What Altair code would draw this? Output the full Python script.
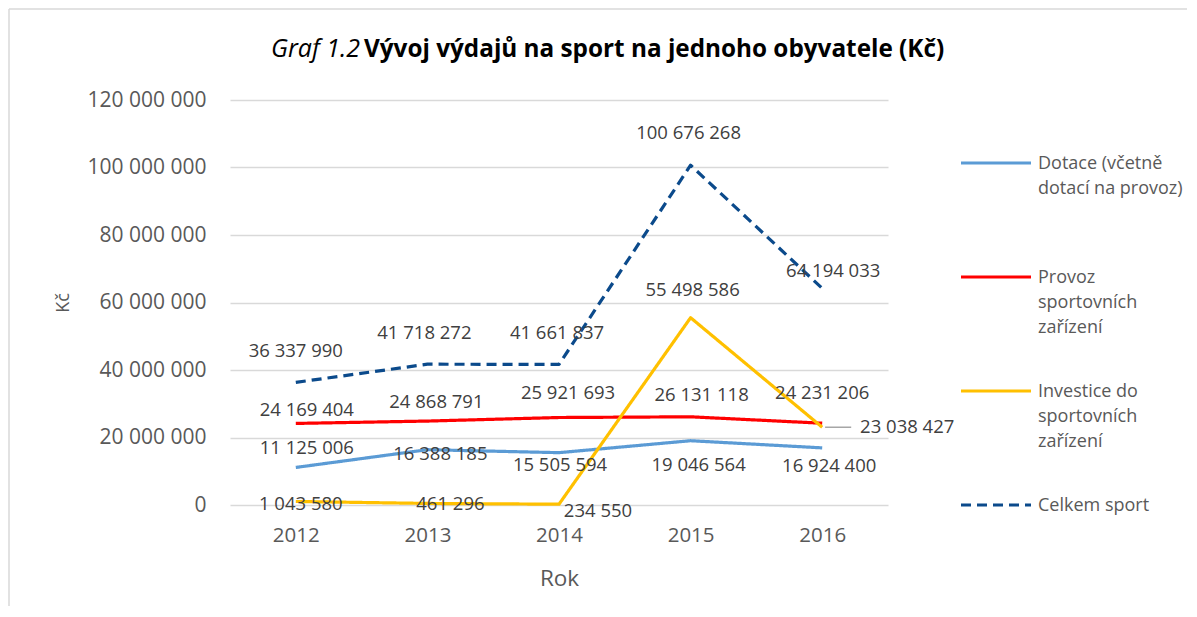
import altair as alt
import pandas as pd

# ---- data ----
years = ["2012", "2013", "2014", "2015", "2016"]
series_names = [
    "Dotace (včetně dotací na provoz)",
    "Provoz sportovních zařízení",
    "Investice do sportovních zařízení",
    "Celkem sport",
]
legend_texts = [
    "Dotace (včetně\ndotací na provoz)",
    "Provoz\nsportovních\nzařízení",
    "Investice do\nsportovních\nzařízení",
    "Celkem sport",
]
dotace = [11125006, 16388185, 15505594, 19046564, 16924400]
provoz = [24169404, 24868791, 25921693, 26131118, 24231206]
investice = [1043580, 461296, 234550, 55498586, 23038427]
celkem = [36337990, 41718272, 41661837, 100676268, 64194033]
y_ticks = [0, 20000000, 40000000, 60000000, 80000000, 100000000, 120000000]
title_prefix = "Graf 1.2"
title_main = "Vývoj výdajů na sport na jednoho obyvatele (Kč)"

# ---- styling ----
COLORS = ["#5B9BD5", "#FF0000", "#FFC000", "#0B4A8B"]
DASHES = [[1, 0], [1, 0], [1, 0], [10, 6]]
FONT = "Open Sans"
TXT = "#595959"
W, H = 658, 405
# data-label placement (pixel offsets from the point), per series and year
LABEL_OFFSETS = {
    series_names[0]: [(11, -19), (13, 4), (1, 12), (8, 24), (7, 18)],
    series_names[1]: [(11, -13), (9, -19), (9, -25), (11, -22), (0, -30)],
    series_names[2]: [(5, 3), (23, 1), (39, 7), (2, -28), (85, 0)],
    series_names[3]: [(0, -31), (-3, -31), (-2, -31), (-2, -32), (11, -17)],
}

rows = []
for name, vals in zip(series_names, [dotace, provoz, investice, celkem]):
    for yr, v in zip(years, vals):
        rows.append({"year": yr, "series": name, "value": v,
                     "label": f"{v:,}".replace(",", " ")})
df = pd.DataFrame(rows)

color_scale = alt.Scale(domain=series_names, range=COLORS)
dash_scale = alt.Scale(domain=series_names, range=DASHES)

x_enc = alt.X(
    "year:O",
    scale=alt.Scale(type="point", padding=0.5),
    axis=alt.Axis(
        title="Rok", labelAngle=0, domain=False, ticks=False, tickSize=0,
        labelFont=FONT, labelFontSize=20.5, labelColor=TXT, labelPadding=20,
        titleFont=FONT, titleFontSize=22.5, titleColor=TXT,
        titleFontWeight="normal", titlePadding=22,
    ),
)
y_enc = alt.Y(
    "value:Q",
    scale=alt.Scale(domain=[0, 120000000]),
    axis=alt.Axis(
        values=y_ticks, title="Kč", domain=False, ticks=False, tickSize=0,
        labelExpr="datum.value == 0 ? '0' : format(datum.value / 1000000, 'd') + ' 000 000'",
        labelFont=FONT, labelFontSize=21, labelColor=TXT, labelPadding=24,
        titleFont=FONT, titleFontSize=18, titleColor=TXT,
        titleFontWeight="normal", titlePadding=15,
        grid=True, gridColor="#D9D9D9", gridWidth=1.3,
    ),
)

base = alt.Chart(df)
layers = []
for name in series_names:
    layers.append(
        base.transform_filter(alt.datum.series == name)
        .mark_line(strokeWidth=3.2, strokeJoin="round")
        .encode(
            x=x_enc, y=y_enc,
            color=alt.Color("series:N", scale=color_scale, legend=None),
            strokeDash=alt.StrokeDash("series:N", scale=dash_scale, legend=None),
        )
    )

# leader line of the moved 2016 investment label
layers.append(
    base.transform_filter((alt.datum.series == series_names[2]) & (alt.datum.year == years[-1]))
    .mark_point(shape="M0.1,0H1", size=3364, filled=False, stroke="#A6A6A6",
                strokeWidth=1.5, opacity=1)
    .encode(x=x_enc, y=y_enc)
)

# data labels, each with its own offset
for name in series_names:
    for yr, (dx, dy) in zip(years, LABEL_OFFSETS[name]):
        layers.append(
            base.transform_filter((alt.datum.series == name) & (alt.datum.year == yr))
            .mark_text(font=FONT, fontSize=18.5, color="#404040", dx=dx, dy=dy)
            .encode(x=x_enc, y=y_enc, text="label:N")
        )

# ---- legend (own y scale, drawn right of the plot) ----
leg_df = pd.DataFrame({"series": series_names, "text": legend_texts})
leg_y = alt.Y("series:N", sort=series_names,
              scale=alt.Scale(type="point", range=[63, 405], padding=0), axis=None)
leg_rules = alt.Chart(leg_df).mark_rule(strokeWidth=3.2).encode(
    x=alt.value(W + 73), x2=alt.value(W + 143), y=leg_y,
    color=alt.Color("series:N", scale=color_scale, legend=None),
    strokeDash=alt.StrokeDash("series:N", scale=dash_scale, legend=None),
)
leg_text = alt.Chart(leg_df).mark_text(
    align="left", baseline="line-top", dy=-12.5, lineHeight=25, lineBreak="\n",
    font=FONT, fontSize=18, color=TXT,
).encode(x=alt.value(W + 150), y=leg_y, text="text:N")

# ---- title: italic prefix + bold main text on one line ----
title_df = pd.DataFrame({"prefix": [title_prefix], "main": [title_main]})
t_prefix = alt.Chart(title_df).mark_text(
    font=FONT, fontSize=25, fontStyle="italic", color="#000000",
    align="left", baseline="alphabetic",
).encode(x=alt.value(41), y=alt.value(-43), text="prefix:N")
t_main = alt.Chart(title_df).mark_text(
    font=FONT, fontSize=24.3, fontWeight="bold", color="#000000",
    align="left", baseline="alphabetic",
).encode(x=alt.value(134), y=alt.value(-43), text="main:N")

# ---- chart-area frame (top and left edges visible) ----
frame_df = pd.DataFrame({"f": [1]})
frame_top = alt.Chart(frame_df).mark_rule(color="#D9D9D9", strokeWidth=1.5).encode(
    x=alt.value(-221), x2=alt.value(957), y=alt.value(-91))
frame_left = alt.Chart(frame_df).mark_rule(color="#D9D9D9", strokeWidth=1.5).encode(
    x=alt.value(-221), y=alt.value(-91), y2=alt.value(506))

main = alt.layer(*layers)
chart = (
    alt.layer(main, leg_rules, leg_text, t_prefix, t_main, frame_top, frame_left)
    .resolve_scale(y="independent")
    .properties(
        width=W, height=H,
        padding={"left": 0, "top": 0, "right": 0, "bottom": 0},
    )
    .configure_view(stroke=None)
)

chart.save("out.html", embed_options={"renderer": "svg", "actions": False})
